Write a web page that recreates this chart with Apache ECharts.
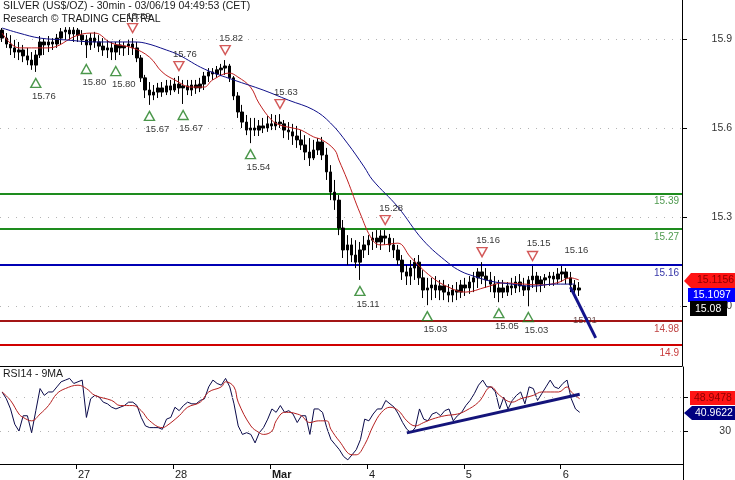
<!DOCTYPE html>
<html><head><meta charset="utf-8">
<script src="https://cdn.jsdelivr.net/npm/echarts@6/dist/echarts.min.js"></script>
<style>html,body{margin:0;padding:0;background:#fff}#c{width:735px;height:480px}</style>
</head><body><div id="c"></div>
<script>
// ---------- DATA ----------
const dayNames = ['26','27','28','Mar','4','5','6'];
const daySlots = [18,23,23,23,23,23,29];   // hourly slots per trading day (last one includes empty future space)
const firstHour = 5;
// OHLC bars: [open, close, low, high]
const bars = [
[15.931,15.904,15.891,15.938],[15.904,15.884,15.871,15.921],[15.884,15.871,15.847,15.914],[15.871,15.857,15.837,15.898],
[15.857,15.864,15.830,15.891],[15.864,15.844,15.823,15.881],[15.844,15.830,15.813,15.871],[15.830,15.813,15.797,15.857],
[15.813,15.847,15.790,15.864],[15.847,15.891,15.837,15.911],[15.891,15.881,15.847,15.904],[15.881,15.891,15.857,15.911],
[15.891,15.884,15.864,15.904],[15.884,15.904,15.871,15.918],[15.904,15.925,15.884,15.938],[15.925,15.931,15.898,15.941],
[15.931,15.918,15.898,15.941],[15.918,15.931,15.891,15.941],[15.931,15.914,15.891,15.938],[15.914,15.898,15.881,15.931],
[15.898,15.881,15.837,15.914],[15.881,15.904,15.864,15.921],[15.904,15.891,15.871,15.925],[15.891,15.877,15.857,15.914],
[15.877,15.864,15.844,15.904],[15.864,15.871,15.837,15.898],[15.871,15.857,15.830,15.891],[15.857,15.881,15.830,15.891],
[15.881,15.871,15.847,15.898],[15.871,15.877,15.844,15.891],[15.877,15.884,15.847,15.898],[15.884,15.871,15.847,15.904],
[15.871,15.837,15.823,15.891],[15.837,15.770,15.756,15.847],[15.770,15.729,15.702,15.780],[15.729,15.712,15.679,15.756],
[15.712,15.722,15.695,15.746],[15.722,15.736,15.702,15.753],[15.736,15.722,15.706,15.756],[15.722,15.743,15.712,15.763],
[15.743,15.729,15.712,15.763],[15.729,15.749,15.722,15.770],[15.749,15.736,15.716,15.776],[15.736,15.743,15.682,15.763],
[15.743,15.729,15.712,15.763],[15.729,15.746,15.709,15.763],[15.746,15.736,15.716,15.763],[15.736,15.749,15.722,15.770],
[15.749,15.776,15.729,15.790],[15.776,15.790,15.756,15.803],[15.790,15.783,15.763,15.803],[15.783,15.797,15.770,15.810],
[15.797,15.803,15.776,15.817],[15.803,15.810,15.780,15.830],[15.810,15.770,15.756,15.817],[15.770,15.709,15.695,15.776],
[15.709,15.655,15.635,15.722],[15.655,15.621,15.601,15.679],[15.621,15.594,15.577,15.645],[15.594,15.601,15.550,15.635],
[15.601,15.594,15.574,15.635],[15.594,15.608,15.574,15.628],[15.608,15.601,15.584,15.635],[15.601,15.615,15.588,15.641],
[15.615,15.608,15.594,15.648],[15.608,15.621,15.594,15.645],[15.621,15.615,15.601,15.648],[15.615,15.594,15.567,15.628],
[15.594,15.588,15.561,15.621],[15.588,15.574,15.544,15.615],[15.574,15.561,15.534,15.608],[15.561,15.544,15.527,15.594],
[15.544,15.520,15.493,15.577],[15.520,15.500,15.473,15.567],[15.500,15.527,15.493,15.561],[15.527,15.554,15.510,15.567],
[15.554,15.510,15.493,15.571],[15.510,15.453,15.426,15.534],[15.453,15.385,15.358,15.476],[15.385,15.358,15.325,15.426],
[15.358,15.264,15.240,15.375],[15.264,15.190,15.163,15.291],[15.190,15.207,15.139,15.240],[15.207,15.173,15.149,15.230],
[15.173,15.149,15.129,15.223],[15.149,15.190,15.089,15.217],[15.190,15.207,15.163,15.237],[15.207,15.223,15.173,15.240],
[15.223,15.230,15.190,15.251],[15.230,15.217,15.197,15.257],[15.217,15.237,15.190,15.257],[15.237,15.230,15.207,15.257],
[15.230,15.207,15.183,15.244],[15.207,15.190,15.163,15.230],[15.190,15.156,15.139,15.207],[15.156,15.116,15.089,15.173],
[15.116,15.102,15.072,15.139],[15.102,15.129,15.072,15.156],[15.129,15.149,15.089,15.163],[15.149,15.096,15.072,15.173],
[15.096,15.055,15.028,15.122],[15.055,15.062,15.004,15.096],[15.062,15.072,15.021,15.096],[15.072,15.055,15.028,15.102],
[15.055,15.069,15.021,15.089],[15.069,15.048,15.021,15.089],[15.048,15.038,15.014,15.075],[15.038,15.055,15.014,15.072],
[15.055,15.048,15.021,15.082],[15.048,15.072,15.028,15.089],[15.072,15.062,15.035,15.096],[15.062,15.082,15.042,15.102],
[15.082,15.096,15.048,15.116],[15.096,15.116,15.062,15.129],[15.116,15.102,15.075,15.149],[15.102,15.089,15.062,15.129],
[15.089,15.075,15.048,15.116],[15.075,15.048,15.028,15.102],[15.048,15.062,15.014,15.089],[15.062,15.048,15.028,15.089],
[15.048,15.069,15.035,15.082],[15.069,15.062,15.038,15.096],[15.062,15.082,15.045,15.102],[15.082,15.069,15.048,15.109],
[15.069,15.055,15.035,15.096],[15.055,15.089,15.001,15.102],[15.089,15.102,15.062,15.136],[15.102,15.075,15.048,15.116],
[15.075,15.089,15.048,15.102],[15.089,15.096,15.062,15.109],[15.096,15.102,15.069,15.116],[15.102,15.092,15.069,15.116],
[15.092,15.109,15.075,15.129],[15.109,15.116,15.082,15.136],[15.116,15.096,15.075,15.129],[15.096,15.072,15.048,15.116],
[15.072,15.055,15.028,15.089],[15.055,15.062,15.035,15.082]
];
// moving averages [slot, value]
const redMA = [[0,15.921],[4,15.871],[7,15.871],[11,15.871],[18,15.914],[22,15.921],[26,15.887],[31,15.871],[35,15.840],[38,15.790],[41,15.763],[45,15.739],[48,15.739],[50,15.763],[54,15.786],[56,15.773],[59,15.739],[61,15.685],[64,15.628],[66,15.611],[69,15.601],[71,15.594],[74,15.571],[76,15.561],[79,15.527],[80,15.493],[82,15.426],[85,15.315],[88,15.223],[90,15.207],[94,15.213],[97,15.166],[102,15.099],[106,15.065],[110,15.048],[115,15.065],[119,15.079],[124,15.075],[128,15.072],[132,15.080],[135,15.096],[137,15.089]];
const blueMA = [[0,15.938],[4,15.921],[9,15.904],[15,15.898],[22,15.891],[31,15.891],[34,15.887],[39,15.864],[42,15.847],[48,15.800],[55,15.763],[62,15.729],[68,15.695],[74,15.662],[78,15.618],[82,15.550],[86,15.470],[88,15.426],[94,15.335],[100,15.223],[106,15.146],[109,15.118],[112,15.102],[116,15.085],[121,15.075],[126,15.068],[131,15.075],[136,15.075]];
// RSI14 per slot
const rsi = [53,49,43,34,30,39,39,29,42,55, 51,53,53,56,59,60,61,58,59,60, 38,49,51,50,47,46,44,43,44,45,
 47,47,45,38,33,32,32,32,31,37, 38,44,42,45,47,46,46,48,49,56, 60,58,57,61,56,46,33,28,29,28,
 23,29,32,37,43,41,45,41,42,40, 35,39,39,28,43,43,41,32,25,22, 19,15,13,16,19,25,37,36,40,43,
 43,48,46,44,40,35,31,29,32,43, 37,36,40,41,39,42,43,36,39,41, 45,48,52,57,60,56,56,53,43,50,
 43,48,51,53,46,56,55,48,52,56, 60,56,55,58,60,49,43,41];
const rsiMA = [[0,53],[2,48],[4,40],[5,38],[7,36],[9,40],[11,45],[13,52],[15,55],[18,57],[20,55],[22,51],[26,48],[28,45],[31,45],[33,42],[35,36],[38,32],[39,33],[42,39],[44,44],[47,47],[49,53],[52,56],[53,59],[55,56],[56,47],[59,33],[61,29],[62,28],[64,30],[65,36],[67,41],[68,41],[70,40],[71,39],[73,35],[75,36],[77,36],[78,31],[80,24],[83,16],[84,16],[86,22],[88,33],[90,41],[92,44],[94,42],[96,36],[98,33],[100,35],[102,37],[105,39],[108,40],[110,42],[113,47],[116,56],[118,51],[121,47],[123,49],[126,51],[128,53],[132,53],[134,56],[135,53],[137,49]];
const rsiTrend = [[96,28.9],[137,51.7]];
// swing annotations [slot, text]
const lowMarks = [[8,'15.76'],[20,'15.80'],[27,'15.80'],[35,'15.67'],[43,'15.67'],[59,'15.54'],[85,'15.11'],[101,'15.03'],[118,'15.05'],[125,'15.03']];
const highMarks = [[31,'15.89'],[42,'15.76'],[53,'15.82'],[66,'15.63'],[91,'15.28'],[114,'15.16'],[126,'15.15']];
const highTextOnly = [[135,'15.16']];
const lowTextOnly = [[137,'15.01']];
// key levels: position on axis and printed label
const levelValues = [15.384,15.256,15.141,14.949,14.865];
const levelLabels = ['15.39','15.27','15.16','14.98','14.9'];
const priceTicks = [15.0,15.3,15.6,15.9];
const rsiTicks = [30,50];
const arrowPath = [[135,15.065],[141,14.894]];

// ---------- CHART ----------
const FONT = '"Liberation Sans", Arial, sans-serif';
const categories = [];
dayNames.forEach((d,i)=>{const s=i===0?firstHour:0;for(let h=0;h<daySlots[i];h++)categories.push(d+' '+(s+h));});
const isDayStart = (idx)=>categories[idx].endsWith(' 0');
const levelColors = ['#1e8c1e','#1e8c1e','#0000b4','#a31515','#d00000'];
const levelTextColors = ['#4f9a4f','#4f9a4f','#3535a8','#c04545','#c83c3c'];

const chart = echarts.init(document.getElementById('c'));
const lblStyle = {fontFamily:FONT,fontSize:9.5,color:'#000'};
chart.setOption({
  animation:false,
  backgroundColor:'#fff',
  grid:[{left:0,right:52,top:0,height:366},{left:0,right:52,top:367,height:100}],
  xAxis:[
    {type:'category',gridIndex:0,data:categories,boundaryGap:true,
     axisLine:{lineStyle:{color:'#000',width:1}},axisTick:{show:false},axisLabel:{show:false},splitLine:{show:false}},
    {type:'category',gridIndex:1,data:categories,boundaryGap:true,
     axisLine:{lineStyle:{color:'#000',width:1}},
     axisTick:{show:true,interval:(i)=>isDayStart(i),length:5,lineStyle:{color:'#000'}},
     axisLabel:{interval:(i)=>isDayStart(i),align:'left',margin:5,fontFamily:FONT,fontSize:11,color:'#1a1a1a',
       formatter:(v)=>{const d=v.split(' ')[0];return d==='Mar'?'{b|Mar}':d;},
       rich:{b:{fontWeight:'bold',fontFamily:FONT,fontSize:11,color:'#1a1a1a'}}},
     splitLine:{show:false}}
  ],
  yAxis:[
    {type:'value',gridIndex:0,position:'right',min:14.799,max:16.0324,
     axisLine:{show:true,lineStyle:{color:'#000'}},
     axisTick:{show:true,customValues:priceTicks,length:5,lineStyle:{color:'#000'}},
     axisLabel:{customValues:priceTicks,align:'right',margin:50,fontFamily:FONT,fontSize:10.5,color:'#333',formatter:(v)=>v.toFixed(1)},
     splitLine:{show:false}},
    {type:'value',gridIndex:1,position:'right',min:10.57,max:67.71,
     axisLine:{show:true,lineStyle:{color:'#000'}},
     axisTick:{show:true,customValues:rsiTicks,length:5,lineStyle:{color:'#000'}},
     axisLabel:{customValues:rsiTicks,align:'right',margin:48,fontFamily:FONT,fontSize:10.5,color:'#333'},
     splitLine:{show:false}}
  ],
  series:[
    {type:'candlestick',xAxisIndex:0,yAxisIndex:0,data:bars,barWidth:3,z:3,
     itemStyle:{color:'#000',color0:'#000',borderColor:'#000',borderColor0:'#000',borderColorDoji:'#000',borderWidth:1},
     markLine:{silent:true,symbol:['none','none'],z:1,
       data:[
        ...priceTicks.map(v=>({yAxis:v,lineStyle:{color:'#b4b4b4',type:[1,7],width:1},label:{show:false}})),
        ...levelValues.map((v,i)=>({yAxis:v,lineStyle:{color:levelColors[i],type:'solid',width:2},
          label:{show:true,position:'insideEndBottom',distance:3,formatter:levelLabels[i],color:levelTextColors[i],fontFamily:FONT,fontSize:10}}))
       ]}},
    {type:'line',xAxisIndex:0,yAxisIndex:0,data:redMA,smooth:0.4,showSymbol:false,z:4,
     lineStyle:{color:'#c02020',width:1}},
    {type:'line',xAxisIndex:0,yAxisIndex:0,data:blueMA,smooth:0.4,showSymbol:false,z:4,
     lineStyle:{color:'#10108a',width:1},
     markLine:{silent:true,symbol:['none','arrow'],symbolSize:[0,15],z:6,
       lineStyle:{color:'#14148c',width:3,type:'solid'},label:{show:false},
       data:[[{coord:arrowPath[0]},{coord:arrowPath[1]}]]}},
    {type:'scatter',xAxisIndex:0,yAxisIndex:0,z:5,
     data:lowMarks.map(([s,t])=>({value:[s,bars[s][2]],name:t})),
     symbol:'path://M5,0L10,9L0,9Z',symbolSize:[10,9],symbolOffset:[0,11],
     itemStyle:{color:'rgba(255,255,255,0)',borderColor:'#1e7d1e',borderWidth:1.4},
     label:{show:true,position:'bottom',distance:3,offset:[8,0],formatter:'{b}',...lblStyle}},
    {type:'scatter',xAxisIndex:0,yAxisIndex:0,z:5,
     data:highMarks.map(([s,t])=>({value:[s,bars[s][3]],name:t})),
     symbol:'path://M0,0L10,0L5,9Z',symbolSize:[10,9],symbolOffset:[0,-10],
     itemStyle:{color:'rgba(255,255,255,0)',borderColor:'#c83030',borderWidth:1.4},
     label:{show:true,position:'top',distance:2,offset:[6,0],formatter:'{b}',...lblStyle}},
    {type:'scatter',xAxisIndex:0,yAxisIndex:0,z:5,
     data:highTextOnly.map(([s,t])=>({value:[s,bars[s][3]],name:t})),
     symbol:'path://M0,0L10,0L5,9Z',symbolSize:[10,9],symbolOffset:[0,-10],
     itemStyle:{color:'rgba(0,0,0,0)',borderColor:'rgba(0,0,0,0)'},
     label:{show:true,position:'top',distance:2,offset:[6,0],formatter:'{b}',...lblStyle}},
    {type:'scatter',xAxisIndex:0,yAxisIndex:0,z:5,
     data:lowTextOnly.map(([s,t])=>({value:[s,bars[s][2]],name:t})),
     symbol:'path://M5,0L10,9L0,9Z',symbolSize:[10,9],symbolOffset:[0,11],
     itemStyle:{color:'rgba(0,0,0,0)',borderColor:'rgba(0,0,0,0)'},
     label:{show:true,position:'bottom',distance:3,offset:[6,0],formatter:'{b}',...lblStyle,color:'#4a2020'}},
    {type:'line',xAxisIndex:1,yAxisIndex:1,data:rsi,showSymbol:false,z:4,
     lineStyle:{color:'#0a0a4a',width:1},
     markLine:{silent:true,symbol:['none','none'],z:5,
       data:[
        ...rsiTicks.map(v=>({yAxis:v,lineStyle:{color:'#b4b4b4',type:[1,7],width:1},label:{show:false}})),
        [{coord:rsiTrend[0],lineStyle:{color:'#14147a',width:3,type:'solid'},label:{show:false}},{coord:rsiTrend[1]}]
       ]}},
    {type:'line',xAxisIndex:1,yAxisIndex:1,data:rsiMA,smooth:0.4,showSymbol:false,z:4,
     lineStyle:{color:'#b52020',width:1}}
  ],
  graphic:[
    {type:'text',x:3,y:0.5,z:20,style:{text:'SILVER (US$/OZ) - 30min - 03/06/19 04:49:53 (CET)',font:'10.5px '+FONT,fill:'#1a1a1a',verticalAlign:'top'}},
    {type:'text',x:3,y:13.5,z:20,style:{text:'Research © TRADING CENTRAL',font:'10.5px '+FONT,fill:'#1a1a1a',verticalAlign:'top'}},
    {type:'text',x:3,y:369,z:20,style:{text:'RSI14 - 9MA',font:'10.5px '+FONT,fill:'#1a1a1a',verticalAlign:'top'}},
    {type:'line',z:20,shape:{x1:683.5,y1:467,x2:683.5,y2:480},style:{stroke:'#000',lineWidth:1}},
    {type:'polygon',z:50,shape:{points:[[684,281],[691,273],[735,273],[735,288],[691,288]]},style:{fill:'#ff1414'}},
    {type:'text',x:697,y:275,z:51,style:{text:'15.1156',font:'10.5px '+FONT,fill:'#8b0000',verticalAlign:'top'}},
    {type:'rect',z:50,shape:{x:688,y:288,width:47,height:14},style:{fill:'#0000ff'}},
    {type:'text',x:693,y:290,z:51,style:{text:'15.1097',font:'10.5px '+FONT,fill:'#fff',verticalAlign:'top'}},
    {type:'rect',z:50,shape:{x:690,y:301,width:37,height:15},style:{fill:'#000'}},
    {type:'text',x:695,y:303.5,z:51,style:{text:'15.08',font:'10.5px '+FONT,fill:'#fff',verticalAlign:'top'}},
    {type:'rect',z:50,shape:{x:690,y:391,width:45,height:14},style:{fill:'#ff1414'}},
    {type:'text',x:694,y:393,z:51,style:{text:'48.9478',font:'10.5px '+FONT,fill:'#8b0000',verticalAlign:'top'}},
    {type:'polygon',z:50,shape:{points:[[684,413],[692,406],[735,406],[735,420],[692,420]]},style:{fill:'#000080'}},
    {type:'text',x:695,y:408,z:51,style:{text:'40.9622',font:'10.5px '+FONT,fill:'#fff',verticalAlign:'top'}}
  ]
});
</script></body></html>
